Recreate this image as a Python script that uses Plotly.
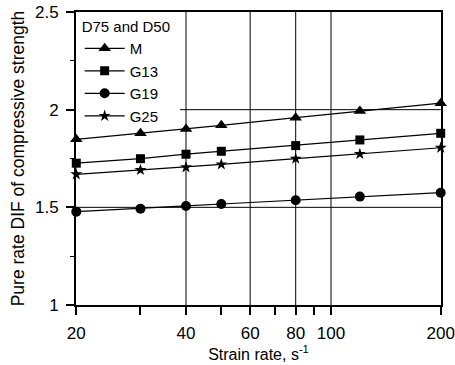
import plotly.graph_objects as go
import math

strain_rate = [20, 30, 40, 50, 80, 120, 200]
dif_M = [1.848, 1.879, 1.901, 1.920, 1.959, 1.993, 2.033]
dif_G13 = [1.726, 1.749, 1.772, 1.787, 1.816, 1.845, 1.879]
dif_G19 = [1.478, 1.493, 1.507, 1.517, 1.536, 1.555, 1.575]
dif_G25 = [1.669, 1.691, 1.705, 1.720, 1.749, 1.773, 1.805]

x_tickvals = [20, 40, 60, 80, 100, 200]
x_ticktext = ["20", "40", "60", "80", "100", "200"]
x_minor_tickvals = [30, 50, 70, 90]
x_grid = [40, 60, 80, 100]
y_grid_full = [1.5]
y_grid_partial = [2.0]
y_grid_partial_start = 38.5

series = [
    ("M", dif_M, "triangle-up", 11),
    ("G13", dif_G13, "square", 9),
    ("G19", dif_G19, "circle", 10),
    ("G25", dif_G25, "star", 9),
]

fig = go.Figure()
for name, vals, sym, sz in series:
    fig.add_trace(go.Scatter(
        x=strain_rate, y=vals, name=name, mode="lines+markers",
        line=dict(color="black", width=1.2),
        marker=dict(symbol=sym, size=sz, color="black"),
        cliponaxis=False,
    ))

shapes = []
for xv in x_grid:
    shapes.append(dict(type="line", xref="x", yref="paper", x0=xv, x1=xv, y0=0, y1=1,
                       line=dict(color="black", width=1), layer="below"))
for yv in y_grid_full:
    shapes.append(dict(type="line", xref="paper", yref="y", x0=0, x1=1, y0=yv, y1=yv,
                       line=dict(color="black", width=1), layer="below"))
for yv in y_grid_partial:
    shapes.append(dict(type="line", xref="x", yref="y", x0=y_grid_partial_start, x1=200, y0=yv, y1=yv,
                       line=dict(color="black", width=1), layer="below"))

font_family = "Liberation Sans, Arial, sans-serif"
eps = 0.0008
fig.update_layout(
    width=455, height=365,
    margin=dict(l=76, r=14, t=12, b=60, autoexpand=False),
    paper_bgcolor="white", plot_bgcolor="white",
    font=dict(family=font_family, size=17, color="black"),
    shapes=shapes,
    showlegend=True,
    legend=dict(
        x=0.01, y=0.998, xanchor="left", yanchor="top",
        bgcolor="rgba(0,0,0,0)", borderwidth=0,
        title=dict(text="D75 and D50", font=dict(size=15)),
        font=dict(size=15),
        tracegroupgap=0,
        itemwidth=40,
    ),
    xaxis=dict(
        type="log", range=[math.log10(20) - eps, math.log10(200) + eps],
        tickmode="array", tickvals=x_tickvals, ticktext=x_ticktext, tickangle=0,
        ticks="outside", ticklen=8, tickwidth=2, tickcolor="black",
        minor=dict(tickmode="array", tickvals=x_minor_tickvals, ticks="outside", ticklen=8, tickwidth=2, tickcolor="black"),
        tickfont=dict(size=17), ticklabelstandoff=4, automargin=False,
        showline=True, linewidth=2, linecolor="black", mirror=True,
        showgrid=False, zeroline=False,
        title=dict(text="Strain rate, s<sup>-1</sup>", font=dict(size=16), standoff=2),
    ),
    yaxis=dict(
        range=[1, 2.5], tickmode="array", tickvals=[1, 1.5, 2, 2.5], ticktext=["1", "1.5", "2", "2.5"],
        ticks="outside", ticklen=8, tickwidth=2, tickcolor="black",
        tickfont=dict(size=17), ticklabelstandoff=4, automargin=False,
        minor=dict(tickmode="array", tickvals=[1.25, 1.75, 2.25], ticks="outside", ticklen=4, tickwidth=1, tickcolor="black"),
        showline=True, linewidth=2, linecolor="black", mirror=True,
        showgrid=False, zeroline=False,
        title=dict(text="Pure rate DIF of compressive strength", font=dict(size=17.5), standoff=6),
    ),
)

fig.write_html("out.html")
